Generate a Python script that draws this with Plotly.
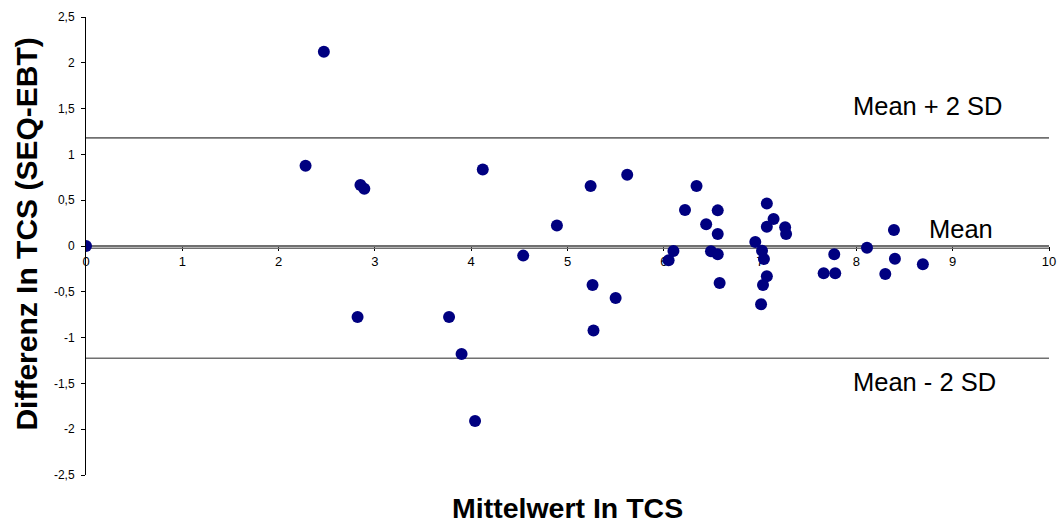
import plotly.graph_objects as go

# Bland-Altman style data
mean_vals = [0.00, 2.28, 2.47, 2.82, 2.85, 2.89, 3.77, 3.90, 4.04, 4.12,
             4.54, 4.89, 5.24, 5.26, 5.27, 5.50, 5.62, 6.05, 6.10, 6.22,
             6.34, 6.44, 6.49, 6.56, 6.56, 6.56, 6.58, 6.95, 7.01, 7.02,
             7.03, 7.04, 7.07, 7.07, 7.07, 7.14, 7.26, 7.27, 7.66, 7.77,
             7.78, 8.11, 8.30, 8.39, 8.40, 8.69]
diff_vals = [0.000, 0.876, 2.120, -0.774, 0.665, 0.625, -0.774, -1.180, -1.910, 0.836,
             -0.105, 0.225, 0.654, -0.425, -0.923, -0.567, 0.778, -0.156, -0.055, 0.393,
             0.654, 0.237, -0.058, 0.389, 0.131, -0.090, -0.403, 0.044, -0.636, -0.051,
             -0.425, -0.142, -0.330, 0.465, 0.210, 0.294, 0.204, 0.131, -0.298, -0.091,
             -0.298, -0.018, -0.305, 0.174, -0.138, -0.200]

ref_names = ["Mean + 2 SD", "Mean", "Mean - 2 SD"]
ref_values = [1.18, -0.025, -1.225]
ref_label_y = [1.53, 0.185, -1.48]
ref_label_x = [7.94, 8.73, 7.94]

x_range = [0, 10]
y_ticks = [2.5, 2, 1.5, 1, 0.5, 0, -0.5, -1, -1.5, -2, -2.5]
y_ticktext = ["2,5", "2", "1,5", "1", "0,5", "0", "-0,5", "-1", "-1,5", "-2", "-2,5"]

fig = go.Figure()

for v in ref_values:
    fig.add_trace(go.Scatter(
        x=x_range, y=[v, v], mode="lines",
        line=dict(color="#707070", width=1.6),
        hoverinfo="skip", showlegend=False))

fig.add_trace(go.Scatter(
    x=mean_vals, y=diff_vals, mode="markers",
    marker=dict(color="#000080", size=12, line=dict(width=0)),
    showlegend=False))

for name, lx, ly in zip(ref_names, ref_label_x, ref_label_y):
    fig.add_annotation(x=lx, y=ly, xref="x", yref="y", text=name,
                       showarrow=False, xanchor="left", yanchor="middle",
                       font=dict(family="Arial, Liberation Sans", size=25.5, color="#000000"))

fig.add_annotation(x=0.5, y=-0.073, xref="paper", yref="paper",
                   text="<b>Mittelwert In TCS</b>", showarrow=False,
                   xanchor="center", yanchor="middle",
                   font=dict(family="Arial, Liberation Sans", size=28.5, color="#000000"))
fig.add_annotation(x=-0.0613, y=0.527, xref="paper", yref="paper",
                   text="<b>Differenz In TCS (SEQ-EBT)</b>", showarrow=False,
                   textangle=-90, xanchor="center", yanchor="middle",
                   font=dict(family="Arial, Liberation Sans", size=30, color="#000000"))

fig.update_layout(
    width=1063, height=527,
    margin=dict(l=86, r=14, t=17, b=52, autoexpand=False),
    paper_bgcolor="white", plot_bgcolor="white",
    font=dict(family="Arial, Liberation Sans", color="#000000"),
    xaxis=dict(range=x_range, anchor="free", position=0.5, dtick=1,
               showgrid=False, zeroline=False, showline=True,
               linecolor="#707070", linewidth=1.6, ticks="outside",
               ticklen=4, tickcolor="#000000", tickwidth=1,
               tickfont=dict(size=13), layer="below traces", automargin=False),
    yaxis=dict(range=[-2.5, 2.5], tickvals=y_ticks, ticktext=y_ticktext,
               showgrid=False, zeroline=False, showline=True,
               linecolor="#000000", linewidth=1, ticks="outside",
               ticklen=4, tickcolor="#000000", tickfont=dict(size=12),
               ticklabelstandoff=4, automargin=False),
)

fig.write_html("out.html")
